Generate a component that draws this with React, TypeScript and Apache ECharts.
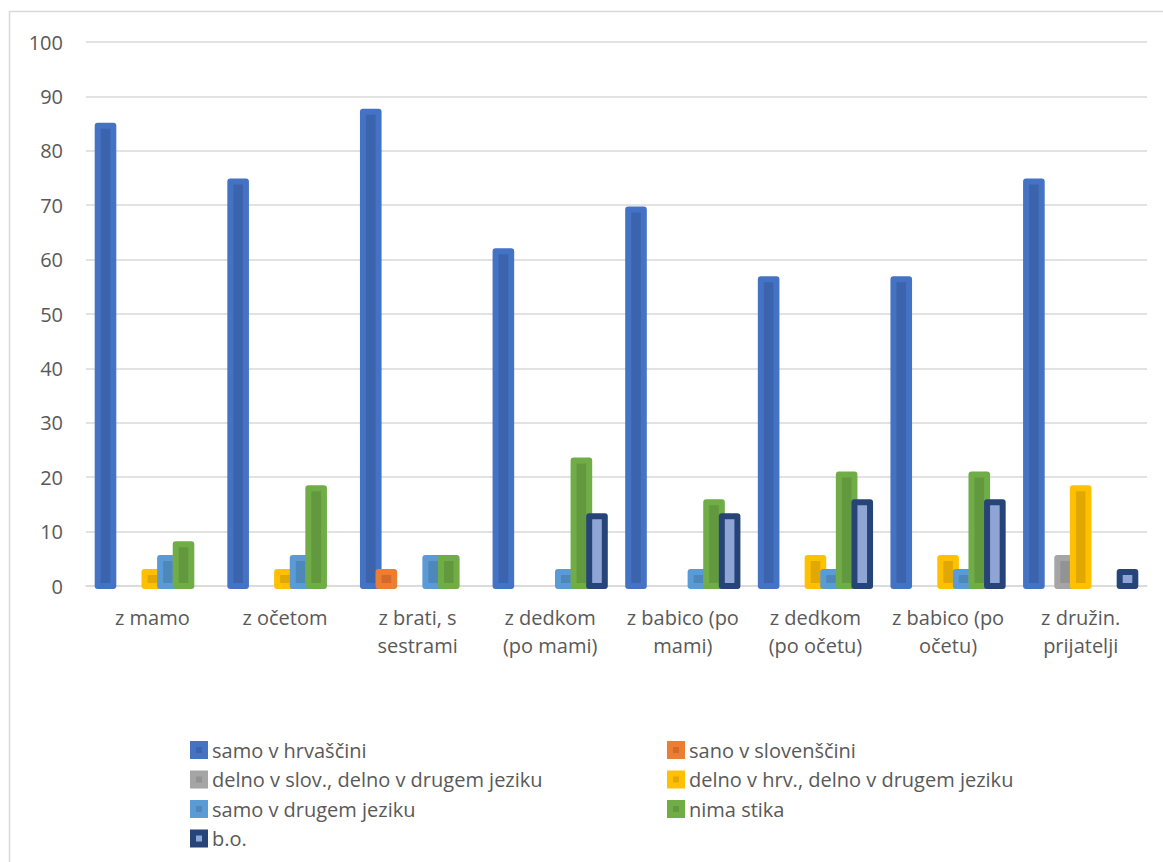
import React, { useEffect, useRef } from "react";
import * as echarts from "echarts";

// Categories (conversation partners), with manual line breaks for the axis labels
const categories = [
  "z mamo",
  "z očetom",
  "z brati, s\nsestrami",
  "z dedkom\n(po mami)",
  "z babico (po\nmami)",
  "z dedkom\n(po očetu)",
  "z babico (po\nočetu)",
  "z družin.\nprijatelji",
];

// Shares (%) per answer
const samoHrv = [84.62, 74.36, 87.18, 61.54, 69.23, 56.41, 56.41, 74.36];
const sanoSlo = [0, 0, 2.56, 0, 0, 0, 0, 0];
const delnoSlov = [0, 0, 0, 0, 0, 0, 0, 5.13];
const delnoHrv = [2.56, 2.56, 0, 0, 0, 5.13, 5.13, 17.95];
const samoDrugi = [5.13, 5.13, 5.13, 2.56, 2.56, 2.56, 2.56, 0];
const nimaStika = [7.69, 17.95, 5.13, 23.08, 15.38, 20.51, 20.51, 0];
const bo = [0, 0, 0, 12.82, 12.82, 15.38, 15.38, 2.56];

const yTicks = { min: 0, max: 100, interval: 10 };

const seriesDefs = [
  { name: "samo v hrvaščini", data: samoHrv, fill: "#3B64AD", edge: "#4472C4" },
  { name: "sano v slovenščini", data: sanoSlo, fill: "#D26B2A", edge: "#ED7D31" },
  { name: "delno v slov., delno v drugem jeziku", data: delnoSlov, fill: "#939393", edge: "#A5A5A5" },
  { name: "delno v hrv., delno v drugem jeziku", data: delnoHrv, fill: "#E0A800", edge: "#FFC000" },
  { name: "samo v drugem jeziku", data: samoDrugi, fill: "#4E88BB", edge: "#5B9BD5" },
  { name: "nima stika", data: nimaStika, fill: "#62983E", edge: "#70AD47" },
  { name: "b.o.", data: bo, fill: "#8FA5D6", edge: "#264478" },
];

const leftLegend = [
  "samo v hrvaščini",
  "delno v slov., delno v drugem jeziku",
  "samo v drugem jeziku",
  "b.o.",
];
const rightLegend = [
  "sano v slovenščini",
  "delno v hrv., delno v drugem jeziku",
  "nima stika",
];

const FONT = "'Open Sans', 'Noto Sans', sans-serif";
const TEXT = "#595959";
const GRID = "#D9D9D9";

// Each bar takes this share of its category band; the border is centred on
// the bar outline so it spills half its width outside, as in office charts.
const BAR_SHARE = 15.6 / 132.6;
const BORDER = 6;

export default function App() {
  const ref = useRef<HTMLDivElement>(null);

  useEffect(() => {
    if (!ref.current) return;
    const chart = echarts.init(ref.current, undefined, { renderer: "svg" });
    const nSeries = seriesDefs.length;

    const legendBase = {
      orient: "vertical" as const,
      top: 740,
      padding: 0,
      icon: "rect",
      itemWidth: 12,
      itemHeight: 12,
      itemGap: 9.5,
      itemStyle: { borderWidth: BORDER },
      selectedMode: false,
      textStyle: {
        fontFamily: FONT,
        fontSize: 20,
        color: TEXT,
        lineHeight: 20,
        padding: [0, 0, 0, 2],
      },
    };

    chart.setOption({
      animation: false,
      textStyle: { fontFamily: FONT },
      graphic: [
        {
          type: "rect",
          shape: { x: 9.5, y: 11.5, width: 1200, height: 900 },
          style: { fill: "none", stroke: GRID, lineWidth: 1.5 },
          silent: true,
        },
      ],
      grid: { left: 86, right: 16, top: 42, bottom: 276, containLabel: false },
      legend: [
        { ...legendBase, left: 190, data: leftLegend },
        { ...legendBase, left: 667, data: rightLegend },
      ],
      xAxis: {
        type: "category",
        data: categories,
        axisTick: { show: false },
        axisLine: { lineStyle: { color: GRID, width: 1.5 } },
        axisLabel: {
          interval: 0,
          fontFamily: FONT,
          fontSize: 20,
          color: TEXT,
          lineHeight: 28,
          margin: 17,
        },
      },
      yAxis: {
        type: "value",
        min: yTicks.min,
        max: yTicks.max,
        interval: yTicks.interval,
        axisLine: { show: false },
        axisTick: { show: false },
        splitLine: { lineStyle: { color: GRID, width: 1.5 } },
        axisLabel: { fontFamily: FONT, fontSize: 20, color: TEXT, margin: 23 },
      },
      series: seriesDefs.map((s, si) => ({
        type: "custom",
        name: s.name,
        data: s.data.map((v, i) => [i, v]),
        encode: { x: 0, y: 1 },
        itemStyle: { color: s.fill, borderColor: s.edge, borderWidth: BORDER },
        emphasis: { disabled: true },
        renderItem: (params: any, api: any) => {
          const ci = api.value(0);
          const v = api.value(1);
          if (!v) return null;
          const base = api.coord([ci, 0]);
          const top = api.coord([ci, v]);
          const band = api.size([1, 0])[0];
          const step = band * BAR_SHARE;
          const x0 = base[0] - (nSeries / 2) * step + si * step;
          return {
            type: "rect",
            shape: { x: x0, y: top[1], width: step, height: base[1] - top[1] },
            style: {
              fill: s.fill,
              stroke: s.edge,
              lineWidth: BORDER,
              lineJoin: "round",
            },
          };
        },
      })),
    });

    return () => chart.dispose();
  }, []);

  return (
    <div
      ref={ref}
      style={{ position: "absolute", left: 0, top: 0, width: 1163, height: 862 }}
    />
  );
}
